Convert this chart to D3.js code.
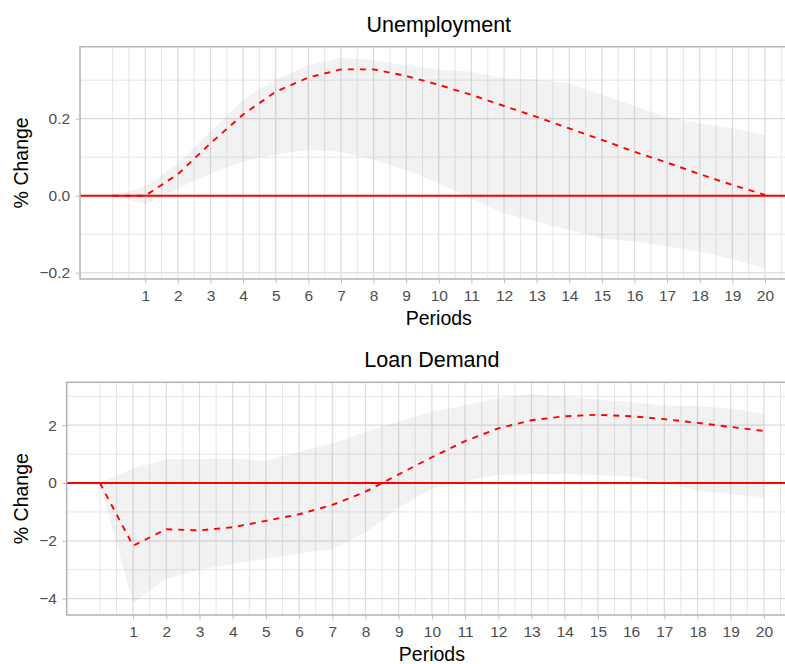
<!DOCTYPE html>
<html>
<head>
<meta charset="utf-8">
<script src="https://cdn.jsdelivr.net/npm/d3@7"></script>
<style>
  body { margin: 0; background: #fff; }
  svg { display: block; font-family: "Liberation Sans", Arial, Helvetica, sans-serif; }
</style>
</head>
<body>
<svg id="chart" width="785" height="664"></svg>
<script>
// periods of the impulse response
const periods = [0, 1, 2, 3, 4, 5, 6, 7, 8, 9, 10, 11, 12, 13, 14, 15, 16, 17, 18, 19, 20];
const periodTicks = [1, 2, 3, 4, 5, 6, 7, 8, 9, 10, 11, 12, 13, 14, 15, 16, 17, 18, 19, 20];

// Unemployment response
const unemploymentIrf = [0, 0, 0.056, 0.136, 0.211, 0.270, 0.307, 0.328, 0.328, 0.311, 0.288,
  0.262, 0.233, 0.205, 0.175, 0.145, 0.114, 0.086, 0.056, 0.028, 0.002];
const unemploymentUpper = [0, 0.023, 0.084, 0.166, 0.250, 0.302, 0.339, 0.358, 0.352, 0.339, 0.327,
  0.322, 0.305, 0.302, 0.292, 0.262, 0.233, 0.204, 0.188, 0.175, 0.158];
const unemploymentLower = [0, -0.022, 0.019, 0.058, 0.088, 0.108, 0.119, 0.114, 0.093, 0.067, 0.032,
  -0.007, -0.046, -0.067, -0.089, -0.111, -0.119, -0.132, -0.145, -0.165, -0.189];
const unemploymentTicks = [-0.2, 0, 0.2];

// Loan demand response
const loanIrf = [0, -2.17, -1.60, -1.64, -1.53, -1.31, -1.08, -0.76, -0.30, 0.30, 0.89,
  1.45, 1.89, 2.17, 2.31, 2.36, 2.31, 2.21, 2.08, 1.94, 1.80];
const loanUpper = [0, 0.51, 0.82, 0.82, 0.84, 0.76, 1.08, 1.37, 1.77, 2.14, 2.46,
  2.69, 2.92, 3.07, 2.98, 2.89, 2.80, 2.67, 2.66, 2.57, 2.40];
const loanLower = [0, -4.15, -3.32, -3.00, -2.79, -2.62, -2.43, -2.29, -1.71, -0.85, -0.20,
  0.05, 0.28, 0.31, 0.31, 0.28, 0.22, -0.01, -0.26, -0.38, -0.49];
const loanTicks = [-4, -2, 0, 2];

const svg = d3.select("#chart");

// ggplot-like minor breaks: midpoints between majors, extended one step each side
function minorBreaks(ticks, domain) {
  const step = ticks[1] - ticks[0];
  const ext = [ticks[0] - step, ...ticks, ticks[ticks.length - 1] + step];
  const out = [];
  for (let i = 0; i < ext.length - 1; i++) {
    out.push(ext[i], (ext[i] + ext[i + 1]) / 2);
  }
  out.push(ext[ext.length - 1]);
  return out.filter(v => v >= domain[0] && v <= domain[1] && !ticks.includes(v));
}

function drawPanel(cfg) {
  const { left, top, bottom, right } = cfg;

  const x = d3.scaleLinear().domain([-1, 21]).range([left, right]);
  const y = d3.scaleLinear().domain(cfg.yDomain).range([bottom, top]);

  const g = svg.append("g");

  // grid
  const xMinor = minorBreaks(periodTicks, [-1, 21]);
  const yMinor = minorBreaks(cfg.yTicks, cfg.yDomain);

  g.selectAll("line.xminor").data(xMinor).join("line")
    .attr("x1", d => x(d)).attr("x2", d => x(d))
    .attr("y1", top).attr("y2", bottom)
    .attr("stroke", "#e3e3e3").attr("stroke-width", 0.9);
  g.selectAll("line.yminor").data(yMinor).join("line")
    .attr("x1", left).attr("x2", right)
    .attr("y1", d => y(d)).attr("y2", d => y(d))
    .attr("stroke", "#e3e3e3").attr("stroke-width", 0.9);
  g.selectAll("line.xmajor").data(periodTicks).join("line")
    .attr("x1", d => x(d)).attr("x2", d => x(d))
    .attr("y1", top).attr("y2", bottom)
    .attr("stroke", "#dcdcdc").attr("stroke-width", 1.2);
  g.selectAll("line.ymajor").data(cfg.yTicks).join("line")
    .attr("x1", left).attr("x2", right)
    .attr("y1", d => y(d)).attr("y2", d => y(d))
    .attr("stroke", "#dcdcdc").attr("stroke-width", 1.2);

  // confidence band
  const rows = periods.map((p, i) => ({ p, v: cfg.irf[i], lo: cfg.lower[i], hi: cfg.upper[i] }));

  g.append("path")
    .datum(rows)
    .attr("fill", "rgb(127,127,127)")
    .attr("fill-opacity", 0.1)
    .attr("d", d3.area().x(d => x(d.p)).y0(d => y(d.lo)).y1(d => y(d.hi)));

  // zero line
  g.append("line")
    .attr("x1", left).attr("x2", right)
    .attr("y1", y(0)).attr("y2", y(0))
    .attr("stroke", "red").attr("stroke-width", 1.9);

  // response
  g.append("path")
    .datum(rows)
    .attr("fill", "none")
    .attr("stroke", "red")
    .attr("stroke-width", 1.9)
    .attr("stroke-dasharray", "6,6")
    .attr("d", d3.line().x(d => x(d.p)).y(d => y(d.v)));

  // panel border (top, left, bottom; right falls outside the picture)
  g.append("rect")
    .attr("x", left).attr("y", top)
    .attr("width", right - left).attr("height", bottom - top)
    .attr("fill", "none").attr("stroke", "#b3b3b3").attr("stroke-width", 1.5);

  // axes
  const yAxis = g.append("g")
    .attr("transform", `translate(${left - 0.7},0)`)
    .call(d3.axisLeft(y).tickValues(cfg.yTicks).tickSize(3.7).tickPadding(5.5)
      .tickFormat(cfg.yFormat));
  const xAxis = g.append("g")
    .attr("transform", `translate(0,${bottom + 0.7})`)
    .call(d3.axisBottom(x).tickValues(periodTicks).tickSize(3.7).tickPadding(7)
      .tickFormat(d3.format("d")));

  [yAxis, xAxis].forEach(ax => {
    ax.select(".domain").remove();
    ax.selectAll(".tick line").attr("stroke", "#b3b3b3").attr("stroke-width", 0.9);
    ax.selectAll(".tick text")
      .attr("fill", "#4d4d4d")
      .style("font-size", "15.5px")
      .style("font-family", "'Liberation Sans', Arial, sans-serif");
  });

  // titles
  const cx = (left + right) / 2;
  svg.append("text")
    .attr("x", cx).attr("y", top - 15)
    .attr("text-anchor", "middle")
    .style("font-size", "21.5px")
    .attr("fill", "#000")
    .text(cfg.title);

  svg.append("text")
    .attr("x", cx).attr("y", bottom + 46)
    .attr("text-anchor", "middle")
    .style("font-size", "19.5px")
    .attr("fill", "#000")
    .text("Periods");

  svg.append("text")
    .attr("transform", `translate(28,${(top + bottom) / 2}) rotate(-90)`)
    .attr("text-anchor", "middle")
    .style("font-size", "19.5px")
    .attr("fill", "#000")
    .text("% Change");
}

drawPanel({
  title: "Unemployment",
  left: 80, right: 797.6, top: 46.7, bottom: 279,
  yDomain: [-0.2163, 0.387],
  yTicks: unemploymentTicks,
  yFormat: d3.format(".1f"),
  irf: unemploymentIrf, lower: unemploymentLower, upper: unemploymentUpper
});

drawPanel({
  title: "Loan Demand",
  left: 66.7, right: 797.1, top: 382.3, bottom: 615,
  yDomain: [-4.567, 3.484],
  yTicks: loanTicks,
  yFormat: d3.format("d"),
  irf: loanIrf, lower: loanLower, upper: loanUpper
});
</script>
</body>
</html>
